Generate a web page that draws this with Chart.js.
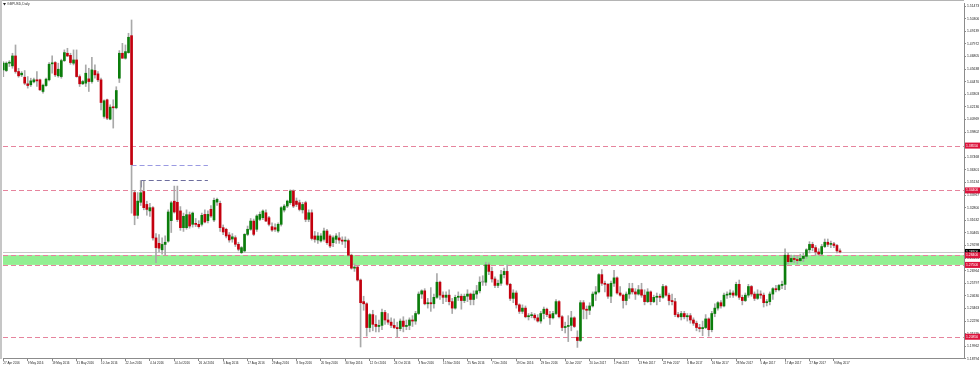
<!DOCTYPE html>
<html><head><meta charset="utf-8">
<script src="https://cdn.jsdelivr.net/npm/chart.js@4.4.1/dist/chart.umd.min.js"></script>
<style>html,body{margin:0;padding:0;background:#fff;}#wrap{width:980px;height:368px;position:relative;}</style>
</head><body><div id="wrap"><canvas id="c" width="980" height="368"></canvas></div>
<script>
const chartTitle = "GBPUSD,Daily";
const tickLabels = ["27 Apr 2016","9 May 2016","19 May 2016","31 May 2016","10 Jun 2016","22 Jun 2016","4 Jul 2016","14 Jul 2016","26 Jul 2016","5 Aug 2016","17 Aug 2016","29 Aug 2016","8 Sep 2016","20 Sep 2016","30 Sep 2016","12 Oct 2016","24 Oct 2016","3 Nov 2016","15 Nov 2016","25 Nov 2016","7 Dec 2016","19 Dec 2016","29 Dec 2016","10 Jan 2017","20 Jan 2017","1 Feb 2017","13 Feb 2017","22 Feb 2017","6 Mar 2017","16 Mar 2017","28 Mar 2017","5 Apr 2017","17 Apr 2017","27 Apr 2017","9 May 2017"];
const priceTicks = [1.51473,1.50306,1.49139,1.47972,1.46805,1.45638,1.44470,1.43303,1.42136,1.40969,1.39802,1.38635,1.37468,1.36301,1.35134,1.33967,1.32800,1.31632,1.30465,1.29298,1.28131,1.26964,1.25797,1.24630,1.23463,1.22296,1.21129,1.19962,1.18794];

const opens = [
1.4556,1.4550,1.4618,1.4593,1.4685,1.4541,1.4510,1.4488,1.4427,1.4418,
1.4445,1.4464,1.4464,1.4356,1.4411,1.4464,1.4612,1.4624,1.4501,1.4494,
1.4642,1.4710,1.4691,1.4618,1.4648,1.4494,1.4427,1.4433,1.4473,1.4448,
1.4550,1.4519,1.4464,1.4125,1.4279,1.4100,1.4211,1.4205,1.4479,1.4710,
1.4664,1.4716,1.4873,1.3420,1.3209,1.3330,1.3430,1.3310,1.3250,1.3280,
1.3000,1.2950,1.2890,1.2940,1.2970,1.3160,1.3340,1.3330,1.3250,1.3095,
1.3095,1.3215,1.3126,1.3135,1.3126,1.3126,1.3218,1.3160,1.3265,1.3166,
1.3332,1.3320,1.3095,1.3080,1.3027,1.2990,1.3002,1.2941,1.2864,1.2880,
1.3033,1.3080,1.3156,1.3080,1.3172,1.3187,1.3233,1.3187,1.3104,1.3095,
1.3064,1.3126,1.3258,1.3295,1.3326,1.3434,1.3341,1.3326,1.3260,1.3326,
1.3172,1.3233,1.3018,1.2981,1.2972,1.2987,1.3064,1.3018,1.2956,1.2987,
1.3000,1.2980,1.2970,1.2975,1.2840,1.2720,1.2730,1.2610,1.2410,1.2390,
1.2170,1.2290,1.2200,1.2180,1.2190,1.2310,1.2240,1.2220,1.2190,1.2170,
1.2160,1.2230,1.2180,1.2190,1.2240,1.2230,1.2300,1.2480,1.2510,1.2390,
1.2400,1.2390,1.2450,1.2590,1.2470,1.2450,1.2470,1.2410,1.2350,1.2450,
1.2460,1.2420,1.2460,1.2480,1.2430,1.2480,1.2510,1.2590,1.2590,1.2750,
1.2690,1.2620,1.2560,1.2580,1.2660,1.2690,1.2570,1.2440,1.2490,1.2380,
1.2320,1.2350,1.2270,1.2280,1.2285,1.2260,1.2230,1.2300,1.2340,1.2290,
1.2260,1.2300,1.2410,1.2270,1.2170,1.2180,1.2190,1.2260,1.2080,1.2050,
1.2400,1.2340,1.2330,1.2370,1.2480,1.2500,1.2660,1.2580,1.2570,1.2460,
1.2580,1.2630,1.2490,1.2470,1.2420,1.2480,1.2530,1.2500,1.2480,1.2520,
1.2470,1.2410,1.2500,1.2410,1.2450,1.2460,1.2450,1.2550,1.2470,1.2420,
1.2410,1.2290,1.2270,1.2300,1.2270,1.2280,1.2240,1.2210,1.2170,1.2160,
1.2170,1.2250,1.2150,1.2300,1.2350,1.2400,1.2370,1.2470,1.2475,1.2490,
1.2470,1.2570,1.2450,1.2420,1.2470,1.2550,1.2480,1.2440,1.2480,1.2470,
1.2400,1.2410,1.2480,1.2530,1.2520,1.2560,1.2570,1.2840,1.2780,1.2810,
1.2800,1.2790,1.2810,1.2830,1.2890,1.2940,1.2910,1.2870,1.2850,1.2920,
1.2960,1.2940,1.2945,1.2930,1.2880];
const highs = [
1.4633,1.4630,1.4642,1.4710,1.4787,1.4571,1.4540,1.4550,1.4494,1.4479,
1.4480,1.4541,1.4470,1.4424,1.4479,1.4624,1.4685,1.4633,1.4618,1.4655,
1.4741,1.4756,1.4710,1.4741,1.4741,1.4510,1.4460,1.4602,1.4571,1.4673,
1.4602,1.4541,1.4479,1.4279,1.4285,1.4233,1.4279,1.4400,1.4735,1.4802,
1.4787,1.4895,1.5018,1.3440,1.3420,1.3530,1.3526,1.3340,1.3320,1.3290,
1.3040,1.3030,1.3000,1.3020,1.3260,1.3340,1.3480,1.3480,1.3290,1.3230,
1.3260,1.3240,1.3240,1.3180,1.3160,1.3230,1.3260,1.3250,1.3300,1.3370,
1.3370,1.3340,1.3120,1.3090,1.3050,1.3040,1.3020,1.2960,1.2920,1.3040,
1.3110,1.3180,1.3175,1.3215,1.3240,1.3260,1.3260,1.3200,1.3140,1.3130,
1.3140,1.3290,1.3310,1.3350,1.3445,1.3445,1.3370,1.3350,1.3330,1.3340,
1.3260,1.3260,1.3060,1.3050,1.3040,1.3090,1.3080,1.3030,1.3020,1.3040,
1.3050,1.3010,1.3010,1.2990,1.2850,1.2760,1.2740,1.2620,1.2460,1.2400,
1.2300,1.2330,1.2280,1.2240,1.2340,1.2330,1.2300,1.2260,1.2250,1.2220,
1.2250,1.2270,1.2240,1.2260,1.2280,1.2320,1.2500,1.2520,1.2530,1.2440,
1.2540,1.2480,1.2670,1.2600,1.2500,1.2500,1.2520,1.2440,1.2470,1.2500,
1.2480,1.2480,1.2520,1.2490,1.2510,1.2560,1.2640,1.2650,1.2775,1.2770,
1.2730,1.2640,1.2610,1.2700,1.2720,1.2750,1.2580,1.2520,1.2510,1.2390,
1.2380,1.2370,1.2300,1.2310,1.2300,1.2290,1.2320,1.2360,1.2350,1.2320,
1.2320,1.2430,1.2420,1.2280,1.2220,1.2280,1.2320,1.2270,1.2140,1.2420,
1.2420,1.2370,1.2400,1.2500,1.2550,1.2670,1.2706,1.2600,1.2580,1.2600,
1.2700,1.2640,1.2550,1.2480,1.2500,1.2580,1.2580,1.2530,1.2560,1.2580,
1.2520,1.2530,1.2510,1.2470,1.2490,1.2480,1.2570,1.2560,1.2490,1.2480,
1.2440,1.2310,1.2320,1.2320,1.2300,1.2300,1.2260,1.2230,1.2200,1.2230,
1.2290,1.2260,1.2320,1.2390,1.2410,1.2420,1.2490,1.2500,1.2520,1.2510,
1.2590,1.2610,1.2470,1.2490,1.2570,1.2560,1.2500,1.2520,1.2510,1.2490,
1.2430,1.2500,1.2540,1.2560,1.2570,1.2600,1.2900,1.2860,1.2840,1.2840,
1.2830,1.2850,1.2860,1.2900,1.2965,1.2960,1.2930,1.2900,1.2940,1.2990,
1.2990,1.2970,1.2960,1.2940,1.2900];
const lows = [
1.4494,1.4540,1.4587,1.4571,1.4525,1.4488,1.4494,1.4418,1.4387,1.4402,
1.4435,1.4402,1.4365,1.4340,1.4402,1.4454,1.4525,1.4494,1.4488,1.4479,
1.4633,1.4679,1.4608,1.4602,1.4488,1.4402,1.4420,1.4402,1.4356,1.4433,
1.4479,1.4448,1.4186,1.4109,1.4094,1.4094,1.4017,1.4195,1.4439,1.4664,
1.4655,1.4710,1.3229,1.3122,1.3180,1.3300,1.3260,1.3210,1.3200,1.2980,
1.2771,1.2870,1.2850,1.2840,1.2960,1.3050,1.3230,1.3150,1.3070,1.3060,
1.3080,1.3090,1.3100,1.3105,1.3090,1.3110,1.3140,1.3140,1.3190,1.3150,
1.3300,1.3060,1.3030,1.3000,1.2960,1.2960,1.2920,1.2880,1.2855,1.2870,
1.3020,1.3070,1.3020,1.3060,1.3160,1.3170,1.3150,1.3110,1.3060,1.3060,
1.3050,1.3110,1.3240,1.3280,1.3310,1.3280,1.3290,1.3250,1.3230,1.3150,
1.3150,1.2980,1.2960,1.2950,1.2960,1.2970,1.2940,1.2910,1.2920,1.2950,
1.2950,1.2940,1.2910,1.2830,1.2710,1.2690,1.2600,1.1990,1.2330,1.2090,
1.2130,1.2140,1.2130,1.2130,1.2150,1.2200,1.2200,1.2170,1.2160,1.2080,
1.2140,1.2130,1.2150,1.2150,1.2180,1.2200,1.2290,1.2440,1.2380,1.2350,
1.2320,1.2350,1.2440,1.2430,1.2390,1.2410,1.2380,1.2300,1.2340,1.2420,
1.2340,1.2400,1.2410,1.2380,1.2380,1.2440,1.2490,1.2560,1.2560,1.2660,
1.2590,1.2540,1.2540,1.2560,1.2630,1.2560,1.2420,1.2400,1.2350,1.2300,
1.2300,1.2260,1.2240,1.2260,1.2240,1.2220,1.2210,1.2250,1.2270,1.2200,
1.2250,1.2290,1.2260,1.2140,1.2120,1.2040,1.2140,1.2170,1.1986,1.2040,
1.2250,1.2250,1.2290,1.2360,1.2420,1.2490,1.2560,1.2500,1.2440,1.2400,
1.2550,1.2480,1.2460,1.2350,1.2380,1.2440,1.2480,1.2430,1.2470,1.2450,
1.2380,1.2400,1.2380,1.2400,1.2380,1.2410,1.2440,1.2460,1.2380,1.2380,
1.2270,1.2260,1.2240,1.2250,1.2230,1.2210,1.2190,1.2140,1.2130,1.2095,
1.2160,1.2090,1.2130,1.2270,1.2330,1.2350,1.2360,1.2440,1.2450,1.2450,
1.2460,1.2430,1.2380,1.2410,1.2450,1.2460,1.2420,1.2430,1.2440,1.2360,
1.2370,1.2380,1.2430,1.2500,1.2510,1.2530,1.2520,1.2760,1.2770,1.2770,
1.2760,1.2780,1.2780,1.2810,1.2860,1.2880,1.2840,1.2840,1.2840,1.2910,
1.2920,1.2910,1.2910,1.2860,1.2860];
const closes = [
1.4618,1.4618,1.4624,1.4685,1.4541,1.4501,1.4525,1.4433,1.4411,1.4454,
1.4464,1.4454,1.4371,1.4414,1.4470,1.4608,1.4618,1.4510,1.4562,1.4642,
1.4716,1.4685,1.4624,1.4648,1.4494,1.4427,1.4448,1.4525,1.4448,1.4556,
1.4510,1.4464,1.4254,1.4270,1.4109,1.4211,1.4205,1.4365,1.4710,1.4664,
1.4725,1.4858,1.3679,1.3209,1.3341,1.3418,1.3280,1.3264,1.3280,1.3000,
1.2910,1.2905,1.2940,1.2960,1.3240,1.3325,1.3240,1.3170,1.3095,1.3200,
1.3215,1.3110,1.3230,1.3125,1.3104,1.3209,1.3147,1.3218,1.3203,1.3348,
1.3357,1.3095,1.3055,1.3018,1.2981,1.3010,1.2941,1.2895,1.2910,1.3033,
1.3080,1.3156,1.3033,1.3203,1.3218,1.3249,1.3156,1.3126,1.3073,1.3080,
1.3126,1.3280,1.3295,1.3341,1.3434,1.3295,1.3310,1.3264,1.3310,1.3172,
1.3233,1.2995,1.2987,1.3018,1.3018,1.3064,1.2956,1.2925,1.3002,1.3018,
1.2980,1.2970,1.2975,1.2840,1.2720,1.2730,1.2610,1.2400,1.2390,1.2170,
1.2290,1.2200,1.2180,1.2190,1.2310,1.2240,1.2220,1.2190,1.2170,1.2160,
1.2230,1.2180,1.2190,1.2240,1.2230,1.2300,1.2480,1.2510,1.2390,1.2400,
1.2390,1.2450,1.2590,1.2470,1.2450,1.2470,1.2410,1.2350,1.2450,1.2460,
1.2420,1.2460,1.2480,1.2430,1.2480,1.2510,1.2590,1.2590,1.2750,1.2690,
1.2620,1.2560,1.2580,1.2660,1.2690,1.2570,1.2440,1.2490,1.2380,1.2320,
1.2350,1.2270,1.2280,1.2285,1.2260,1.2230,1.2300,1.2340,1.2290,1.2260,
1.2300,1.2410,1.2270,1.2170,1.2180,1.2190,1.2260,1.2180,1.2050,1.2400,
1.2340,1.2330,1.2370,1.2480,1.2500,1.2660,1.2580,1.2570,1.2460,1.2580,
1.2630,1.2490,1.2470,1.2420,1.2480,1.2530,1.2500,1.2480,1.2520,1.2470,
1.2410,1.2500,1.2410,1.2450,1.2460,1.2450,1.2550,1.2470,1.2420,1.2410,
1.2290,1.2270,1.2300,1.2270,1.2280,1.2240,1.2210,1.2170,1.2160,1.2170,
1.2250,1.2150,1.2300,1.2350,1.2400,1.2370,1.2470,1.2475,1.2490,1.2470,
1.2570,1.2450,1.2420,1.2470,1.2550,1.2480,1.2440,1.2480,1.2470,1.2400,
1.2410,1.2480,1.2530,1.2520,1.2560,1.2570,1.2840,1.2780,1.2810,1.2800,
1.2790,1.2810,1.2830,1.2890,1.2940,1.2910,1.2870,1.2850,1.2920,1.2960,
1.2940,1.2945,1.2930,1.2880,1.2870];

const levelLines = [1.3855, 1.3440, 1.2085];
const zoneBounds = [1.2750, 1.2840];
const bidPrice = 1.2870;
const brexitCloseLine = [1.3679, 42, 67];
const postHighLine = [1.3532, 45, 67];

const bars = opens.map((_, i) => i);
const bodyColors = bars.map(i => closes[i] > opens[i] ? '#0b7d0b' : (closes[i] < opens[i] ? '#c4000e' : '#9a9a9a'));
const FONT = 'Liberation Sans, Arial, sans-serif';

const deco = {
  id: 'deco',
  beforeDraw(chart) {
    const ctx = chart.ctx;
    ctx.save();
    ctx.fillStyle = '#ffffff';
    ctx.fillRect(0, 0, chart.width, chart.height);
    ctx.restore();
  },
  beforeDatasetsDraw(chart) {
    const {ctx, chartArea: a, scales: {x, y}} = chart;
    ctx.save();
    ctx.beginPath(); ctx.rect(a.left, a.top, a.right - a.left, a.bottom - a.top); ctx.clip();
    const zt = y.getPixelForValue(zoneBounds[1]), zb = y.getPixelForValue(zoneBounds[0]);
    ctx.fillStyle = '#92ef92';
    ctx.fillRect(a.left, zt, a.right - a.left, zb - zt);
    // bid line
    const by = Math.round(y.getPixelForValue(bidPrice)) + 0.5;
    ctx.strokeStyle = '#c8c8c8'; ctx.lineWidth = 1;
    ctx.beginPath(); ctx.moveTo(a.left, by); ctx.lineTo(a.right, by); ctx.stroke();
    // dashed levels
    ctx.setLineDash([5, 3]);
    ctx.strokeStyle = '#e6849d';
    [...levelLines, ...zoneBounds].forEach(v => {
      const py = Math.round(y.getPixelForValue(v)) + 0.5;
      ctx.beginPath(); ctx.moveTo(a.left, py); ctx.lineTo(a.right, py); ctx.stroke();
    });
    // segments
    const seg = (arr, col) => {
      const py = Math.round(y.getPixelForValue(arr[0])) + 0.5;
      ctx.strokeStyle = col;
      ctx.beginPath(); ctx.moveTo(x.getPixelForValue(arr[1]), py); ctx.lineTo(x.getPixelForValue(arr[2]), py); ctx.stroke();
    };
    seg(brexitCloseLine, '#9a9ae2');
    seg(postHighLine, '#6e6e9e');
    ctx.setLineDash([]);
    const vx = Math.round(x.getPixelForValue(postHighLine[1])) + 0.5;
    ctx.strokeStyle = '#6e6e9e';
    ctx.beginPath(); ctx.moveTo(vx, y.getPixelForValue(postHighLine[0])); ctx.lineTo(vx, y.getPixelForValue(postHighLine[0]) + 7); ctx.stroke();
    ctx.restore();
  },
  afterDraw(chart) {
    const {ctx, chartArea: a, scales: {y}} = chart;
    ctx.save();
    // frame
    ctx.fillStyle = '#c6c6c6';
    ctx.fillRect(0, 0, 2, a.bottom + 1);
    ctx.fillStyle = '#b4b4b4';
    ctx.fillRect(2, 0, a.right - 2, 1);
    // price labels on right axis
    const tag = (v, bg) => {
      const py = y.getPixelForValue(v);
      ctx.fillStyle = bg;
      ctx.fillRect(a.right + 1, py - 3, chart.width - a.right - 1, 6);
      ctx.fillStyle = '#ffffff';
      ctx.font = '3.4px ' + FONT;
      ctx.textBaseline = 'middle'; ctx.textAlign = 'left';
      ctx.fillText(v.toFixed(5), a.right + 2, py);
    };
    levelLines.forEach(v => tag(v, '#dc143c'));
    tag(bidPrice, '#000000');
    zoneBounds.forEach(v => tag(v, '#dc143c'));
    // title
    ctx.fillStyle = '#222';
    ctx.beginPath(); ctx.moveTo(3, 3); ctx.lineTo(6, 3); ctx.lineTo(4.5, 5.5); ctx.closePath(); ctx.fill();
    ctx.font = '3.4px ' + FONT;
    ctx.textBaseline = 'middle'; ctx.textAlign = 'left';
    ctx.fillStyle = '#333';
    ctx.fillText(chartTitle, 7, 4.5);
    ctx.restore();
  }
};

new Chart(document.getElementById('c'), {
  type: 'bar',
  data: {
    datasets: [
      { label: 'body', data: bars.map(i => ({x: i, y: [opens[i], closes[i]]})), backgroundColor: bodyColors, barThickness: 2, minBarLength: 1, grouped: false, order: 0 },
      { label: 'wick', data: bars.map(i => ({x: i, y: [lows[i], highs[i]]})), backgroundColor: '#a9a9a9', barThickness: 1, grouped: false, order: 1 }
    ]
  },
  options: {
    responsive: false, animation: false, devicePixelRatio: 1,
    layout: { padding: { left: 3, top: 2, right: 0, bottom: 0 } },
    plugins: { legend: { display: false }, tooltip: { enabled: false } },
    scales: {
      x: {
        type: 'linear', min: -0.1, max: 314.6, offset: false,
        grid: { display: true, drawOnChartArea: false, drawTicks: true, tickLength: 3, color: '#888', offset: false },
        border: { display: true, color: '#8c8c8c', width: 1 },
        ticks: { autoSkip: false, maxRotation: 0, minRotation: 0, align: 'start', padding: 0, font: { size: 3, family: FONT }, color: '#222',
          callback: (v) => tickLabels[Math.round(v / 8)] ?? '' },
        afterBuildTicks: (s) => { s.ticks = tickLabels.map((_, k) => ({ value: k * 8 })); },
        afterFit: (s) => { s.height = 10; }
      },
      y: {
        type: 'linear', position: 'right', min: 1.1888, max: 1.5175,
        grid: { drawOnChartArea: false, tickLength: 2, color: '#888' },
        border: { display: true, color: '#8c8c8c', width: 1 },
        ticks: { padding: 1, font: { size: 3.4, family: FONT }, color: '#222', callback: (v) => Number(v).toFixed(5) },
        afterBuildTicks: (s) => { s.ticks = priceTicks.map(v => ({ value: v })); },
        afterFit: (s) => { s.width = 16; }
      }
    }
  },
  plugins: [deco]
});
</script>
</body></html>
